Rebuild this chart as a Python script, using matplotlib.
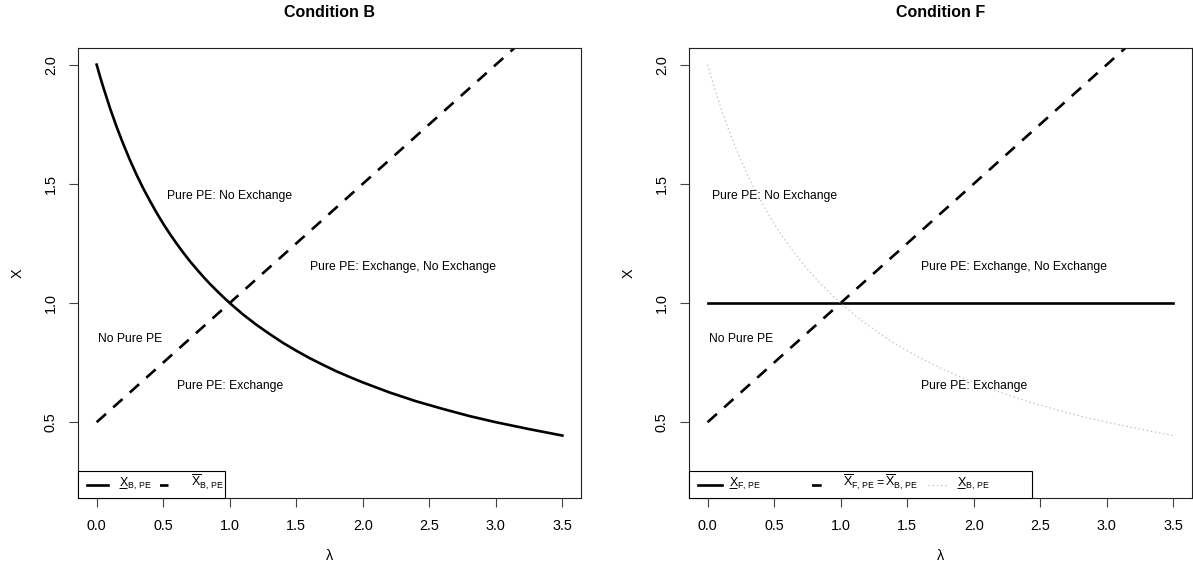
import matplotlib
matplotlib.use('Agg')
import matplotlib.pyplot as plt
from matplotlib.patches import Rectangle

plt.rcParams['font.family'] = ['Liberation Sans', 'DejaVu Sans']
plt.rcParams['mathtext.fontset'] = 'custom'
plt.rcParams['mathtext.rm'] = 'Liberation Sans'
plt.rcParams['mathtext.it'] = 'Liberation Sans'
plt.rcParams['lines.scale_dashes'] = False

# values
lam = [0.0, 0.025, 0.05, 0.1, 0.15, 0.2, 0.25, 0.3, 0.35, 0.4, 0.45, 0.5, 0.55, 0.6, 0.65,
       0.7, 0.75, 0.8, 0.85, 0.9, 0.95, 1.0, 1.1, 1.2, 1.3, 1.4, 1.5, 1.6, 1.7, 1.8, 1.9,
       2.0, 2.2, 2.4, 2.6, 2.8, 3.0, 3.25, 3.5]
x_b = [2.000, 1.951, 1.905, 1.818, 1.739, 1.667, 1.600, 1.538, 1.481, 1.429, 1.379, 1.333,
       1.290, 1.250, 1.212, 1.176, 1.143, 1.111, 1.081, 1.053, 1.026, 1.000, 0.952, 0.909,
       0.870, 0.833, 0.800, 0.769, 0.741, 0.714, 0.690, 0.667, 0.625, 0.588, 0.556, 0.526,
       0.500, 0.471, 0.444]
lam_bar = [0.0, 3.5]
x_bar = [0.5, 2.25]
x_f = [1.0, 1.0]

region_labels = ['Pure PE: No Exchange', 'No Pure PE', 'Pure PE: Exchange, No Exchange', 'Pure PE: Exchange']
pos_b = [(1.0, 1.45), (0.25, 0.85), (2.3, 1.15), (1.0, 0.65)]
pos_f = [(0.5, 1.45), (0.25, 0.85), (2.3, 1.15), (2.0, 0.65)]

# (label text, underlined X?)
lab_xb = ('X$_{\\mathrm{B,\\,PE}}$', True)
lab_xbar_b = ('$\\overline{\\mathrm{X}}_{\\mathrm{B,\\,PE}}$', False)
lab_xf = ('X$_{\\mathrm{F,\\,PE}}$', True)
lab_xbar_f = ('$\\overline{\\mathrm{X}}_{\\mathrm{F,\\,PE}} = \\overline{\\mathrm{X}}_{\\mathrm{B,\\,PE}}$', False)

fig = plt.figure(figsize=(11.93, 5.71), dpi=100)
ax1 = fig.add_axes([0.0654, 0.127, 0.4216, 0.789])
ax2 = fig.add_axes([0.5775, 0.127, 0.4216, 0.789])

solid = dict(color='black', lw=1.9)
dashed = dict(color='black', lw=1.9, dashes=(9, 7))
dotted = dict(color='#bbbbbb', lw=0.8, linestyle=(0, (1, 2)))
# dashed handle in the legend starts with a gap, as in R
dashed_leg = dict(color='black', lw=1.9, linestyle=(7, (7, 9)))

ax1.plot(lam, x_b, **solid)
ax1.plot(lam_bar, x_bar, **dashed)

ax2.plot(lam_bar, x_f, **solid)
ax2.plot(lam_bar, x_bar, **dashed)
ax2.plot(lam, x_b, **dotted)

for ax, title, pos in [(ax1, 'Condition B', pos_b), (ax2, 'Condition F', pos_f)]:
    ax.set_xlim(-0.14, 3.64)
    ax.set_ylim(0.18, 2.07)
    ax.set_xticks([0, 0.5, 1.0, 1.5, 2.0, 2.5, 3.0, 3.5])
    ax.set_xticklabels(['0.0', '0.5', '1.0', '1.5', '2.0', '2.5', '3.0', '3.5'])
    ax.set_yticks([0.5, 1.0, 1.5, 2.0])
    ax.set_yticklabels(['0.5', '1.0', '1.5', '2.0'], rotation=90, va='center')
    ax.tick_params(length=6.5, width=0.8, pad=8, labelsize=10.4, color='#444444')
    for s in ax.spines.values():
        s.set_linewidth(0.8)
        s.set_color('#222222')
    ax.set_title(title, fontsize=11.5, fontweight='bold', pad=22)
    ax.set_xlabel('\u03bb', fontsize=10.4, labelpad=12)
    ax.set_ylabel('X', fontsize=10.4, labelpad=14)
    for txt, (px, py) in zip(region_labels, pos):
        ax.text(px, py, txt, fontsize=8.7, ha='center', va='center')

# width of a plain "X" at legend size, in pixels
renderer = fig.canvas.get_renderer()
tmp = fig.text(0, 0, 'X', fontsize=9)
x_w_px = tmp.get_window_extent(renderer).width
tmp.remove()


def draw_legend(ax, width, items):
    # R-style horizontal legend box in the lower left corner
    h = 0.061
    ax.add_patch(Rectangle((0, 0), width, h, transform=ax.transAxes, facecolor='white',
                           edgecolor='black', lw=0.8, zorder=4, clip_on=False))
    yc = h / 2
    base = 0.0262
    ax_w_px = ax.get_window_extent(renderer).width
    for (hx0, hx1, style, tx, (label, under)) in items:
        ax.plot([hx0, hx1], [yc, yc], transform=ax.transAxes, zorder=5, clip_on=False, **style)
        ax.text(tx, base, label, transform=ax.transAxes, fontsize=9, ha='left', va='baseline', zorder=5)
        if under:
            ax.plot([tx, tx + x_w_px / ax_w_px], [base - 0.003, base - 0.003], transform=ax.transAxes,
                    color='black', lw=0.7, zorder=5, clip_on=False, solid_capstyle='butt')


draw_legend(ax1, 0.292, [
    (0.018, 0.060, solid, 0.081, lab_xb),
    (0.137, 0.179, dashed_leg, 0.224, lab_xbar_b),
])
draw_legend(ax2, 0.682, [
    (0.018, 0.066, solid, 0.079, lab_xf),
    (0.219, 0.266, dashed_leg, 0.306, lab_xbar_f),
    (0.475, 0.513, dotted, 0.533, lab_xb),
])

fig.savefig('out.png', dpi=100)
